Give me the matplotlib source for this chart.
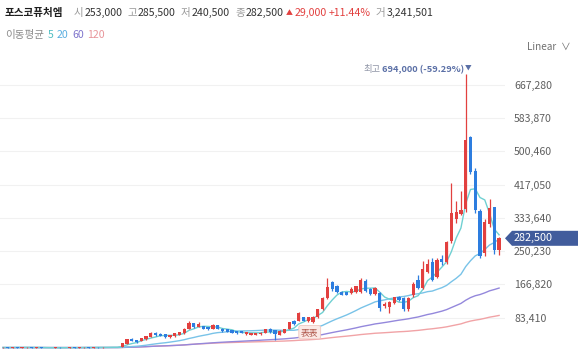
import numpy as np
import pandas as pd
import matplotlib
matplotlib.use("Agg")
import matplotlib.pyplot as plt
from matplotlib.patches import Polygon

plt.rcParams['font.family'] = ['Noto Sans CJK KR', 'DejaVu Sans']

# monthly candles, values in thousand KRW
opens = [8.6, 9.0, 8.5, 9.2, 8.3, 8.8, 9.1, 8.1, 8.6, 7.9, 7.4, 8.0, 8.5, 7.5, 8.1, 8.6, 8.0, 8.6, 9.0, 8.5,
         9.1, 8.6, 9.2, 9.0, 9.6, 10.0, 17.5, 31.0, 27.0, 25.0, 29.0, 35.0, 45.0, 43.0, 42.0, 34.0, 37.0, 41.0, 44.0, 56.0,
         69.0, 61.0, 62.0, 60.0, 56.0, 64.0, 56.0, 54.0, 52.0, 50.0, 49.0, 42.0, 41.0, 41.0, 42.0, 46.0, 54.0, 52.0, 41.0, 46.0,
         56.0, 76.0, 76.0, 84.0, 74.0, 72.0, 84.0, 104.0, 132.0, 172.0, 162.0, 147.0, 147.0, 145.0, 148.0, 148.0, 176.0, 156.0, 142.0, 145.0,
         112.0, 111.0, 120.0, 134.0, 132.0, 104.0, 140.0, 178.0, 158.0, 198.0, 224.0, 186.0, 230.0, 222.0, 276.0, 330.0, 344.0, 356.0, 536.0, 452.0,
         352.0, 245.0, 318.0, 360.0, 253.0]
highs = [9.4, 9.3, 9.6, 9.4, 9.0, 9.5, 9.3, 8.9, 8.8, 8.2, 8.3, 8.9, 8.7, 8.4, 8.9, 8.8, 8.9, 9.4, 9.2, 9.5,
         9.3, 9.5, 9.6, 10.0, 9.9, 19.8, 30.5, 32.5, 28.0, 33.0, 38.0, 46.5, 46.5, 44.5, 43.0, 41.0, 45.0, 48.0, 57.0, 76.0,
         70.0, 73.0, 63.0, 61.0, 67.0, 65.0, 57.0, 55.0, 53.0, 51.0, 50.0, 48.0, 46.0, 46.0, 47.0, 55.0, 58.0, 53.0, 52.0, 55.0,
         73.0, 78.0, 98.0, 86.0, 85.0, 87.0, 105.0, 134.0, 182.0, 176.0, 165.0, 150.0, 149.0, 160.0, 163.0, 182.0, 180.0, 158.0, 160.0, 147.0,
         122.0, 125.0, 136.0, 138.0, 134.0, 134.0, 172.0, 190.0, 225.0, 230.0, 232.0, 232.0, 240.0, 276.0, 420.0, 375.0, 400.0, 694.0, 540.0, 460.0,
         356.0, 332.0, 380.0, 362.0, 285.5]
lows = [8.0, 8.2, 8.3, 8.0, 7.9, 8.5, 7.8, 7.8, 7.6, 7.0, 7.2, 7.8, 7.2, 7.3, 7.9, 7.7, 7.8, 8.4, 8.2, 8.3,
        8.3, 8.5, 8.8, 8.8, 8.8, 9.6, 16.8, 24.0, 21.0, 24.0, 28.0, 34.5, 38.0, 37.0, 33.0, 33.0, 36.0, 40.0, 43.0, 55.0,
        58.0, 60.0, 55.0, 53.0, 55.0, 55.0, 48.0, 47.0, 45.0, 43.0, 44.0, 41.0, 40.0, 40.0, 41.0, 45.0, 46.0, 28.0, 40.0, 45.0,
        55.0, 66.0, 75.0, 75.0, 72.0, 70.0, 83.0, 103.0, 130.0, 150.0, 146.0, 139.0, 139.0, 143.0, 146.0, 146.0, 148.0, 140.0, 140.0, 100.0,
        108.0, 96.0, 118.0, 126.0, 100.0, 100.0, 136.0, 156.0, 156.0, 195.0, 175.0, 184.0, 215.0, 218.0, 270.0, 322.0, 340.0, 348.0, 444.0, 345.0,
        232.0, 238.0, 310.0, 242.0, 240.5]
closes = [9.0, 8.5, 9.2, 8.3, 8.8, 9.1, 8.1, 8.6, 7.9, 7.4, 8.0, 8.5, 7.5, 8.1, 8.6, 8.0, 8.6, 9.0, 8.5, 9.1,
          8.6, 9.2, 9.0, 9.6, 9.2, 19.0, 29.0, 25.0, 22.0, 32.0, 37.0, 45.0, 39.0, 38.0, 34.0, 40.0, 44.0, 47.0, 56.0, 71.0,
          59.0, 67.0, 56.0, 54.0, 66.0, 56.0, 49.0, 48.0, 46.0, 44.0, 45.0, 47.0, 45.0, 45.0, 46.0, 54.0, 47.0, 42.0, 51.0, 54.0,
          72.0, 67.0, 94.0, 76.0, 84.0, 86.0, 104.0, 132.0, 161.0, 155.0, 148.0, 141.0, 141.0, 155.0, 162.0, 178.0, 150.0, 142.0, 158.0, 108.0,
          118.0, 123.0, 134.0, 128.0, 106.0, 132.0, 168.0, 158.0, 205.0, 218.0, 178.0, 228.0, 222.0, 272.0, 345.0, 348.0, 354.0, 528.0, 450.0, 354.0,
          238.0, 324.0, 358.0, 253.5, 282.5]
# closes before the visible window (feed the long moving averages)
prior_closes = [8.4, 8.1, 7.9, 8.3, 8.6, 8.2, 7.8, 8.0, 8.5, 8.7, 8.3, 8.0, 7.7, 7.9, 8.2, 8.6, 8.9, 8.4, 8.1, 8.6]
volume = 3241501
ma_periods = [5, 20, 60, 120]
ma_colors = ['#6fd0d2', '#79c3e8', '#9488dc', '#f1a3a6']
yticks = [83.41, 166.82, 250.23, 333.64, 417.05, 500.46, 583.87, 667.28]

UP = '#e2403f'
DOWN = '#2d7ddf'

o = np.array(opens); h = np.array(highs); l = np.array(lows); c = np.array(closes)
n = len(c)
x = np.arange(n)

fig = plt.figure(figsize=(5.8, 3.52), dpi=100)
ax = fig.add_axes([0, 0, 505 / 580, 297 / 352])
ax.set_xlim(-0.63, n + 0.24)
ax.set_ylim(-2.76, 742.4)
for s in ax.spines.values():
    s.set_visible(False)
ax.set_xticks([])
ax.yaxis.tick_right()
ax.set_yticks(yticks)
ax.set_yticklabels([f"{int(round(v * 1000)):,}" for v in yticks])
ax.tick_params(axis='y', length=0, pad=6.5, labelsize=7.6, labelcolor='#5f5f5f')
ax.grid(axis='y', color='#f1f1f1', lw=0.8)
ax.set_axisbelow(True)

# moving averages
full = pd.Series(prior_closes + closes)
for p, col in zip(ma_periods[::-1], ma_colors[::-1]):
    ma = full.rolling(p, min_periods=1).mean().to_numpy()[-n:]
    ax.plot(x, ma, color=col, lw=1.0, zorder=2)

# candles
up = c >= o
colors = np.where(up, UP, DOWN)
ax.vlines(x, l, h, colors=colors, lw=0.9, zorder=3)
body = np.maximum(np.abs(c - o), 0.8)
ax.bar(x, body, bottom=np.minimum(o, c), width=0.68, color=colors, lw=0, zorder=4)

# high annotation
imax = int(np.argmax(h))
pct = (c[-1] - h[imax]) / h[imax] * 100
t_arrow = ax.annotate("▼", xy=(imax, h[imax]), xytext=(1.5, 1), textcoords='offset points',
                      ha='center', va='bottom', fontsize=4.8, color='#5a6fa6', zorder=6)
fig.canvas.draw()
bb = t_arrow.get_window_extent()
t_hi = fig.text(bb.x0 - 0.5, bb.y0 - 1, f"{int(h[imax] * 1000):,} ({pct:.2f}%)", ha='right', va='bottom',
                fontsize=6.7, color='#5a6fa6', fontweight='semibold', transform=None)
fig.canvas.draw()
bb = t_hi.get_window_extent()
fig.text(bb.x0 - 1.5, bb.y0, "최고", ha='right', va='bottom', fontsize=6.7, color='#8d93a5',
         transform=None)

# event badge
ax.text(64.3, 47, "表表", ha='center', va='center', fontsize=6.3, color='#b0584c', zorder=7,
        bbox=dict(boxstyle='round,pad=0.25', fc='#fbe9e6', ec='#f0c8c0', lw=0.6))

# last price tag
yd = ax.transData.transform((0, c[-1]))[1]
tag = Polygon([(505, yd), (512, yd + 7.5), (578, yd + 7.5), (578, yd - 7.5), (512, yd - 7.5)],
              closed=True, transform=None, fc='#415c9c', ec='none', zorder=10)
fig.patches.append(tag)
fig.text(514, yd, f"{int(c[-1] * 1000):,}", transform=None, ha='left', va='center',
         fontsize=7.8, color='white', zorder=11)

# header
def px(xp, yp):
    return xp / 580, 1 - yp / 352

fs = 7.6
fig.text(*px(5, 13), "포스코퓨처엠", fontsize=fs, fontweight='bold', color='#1e1e1e', va='center')
chg = (c[-1] - c[-2]) * 1000
pct_chg = (c[-1] - c[-2]) / c[-2] * 100
items = [(74, "시", '#9a9a9a'), (85, f"{int(o[-1] * 1000):,}", '#333333'),
         (127, "고", '#9a9a9a'), (138, f"{int(h[-1] * 1000):,}", '#333333'),
         (181, "저", '#9a9a9a'), (192, f"{int(l[-1] * 1000):,}", '#333333'),
         (235, "종", '#9a9a9a'), (246, f"{int(c[-1] * 1000):,}", '#333333'),
         (286, "▲", UP), (295, f"{int(chg):,}", UP), (329, f"+{pct_chg:.2f}%", UP),
         (376, "거", '#9a9a9a'), (387, f"{volume:,}", '#333333')]
for xp, s, col in items:
    fig.text(*px(xp, 13), s, fontsize=fs if s != "▲" else 5, color=col, va='center')

fig.text(*px(5, 35), "이동평균", fontsize=fs, color='#8a8a8a', va='center')
for xp, p, col in zip([48, 57, 72, 87], ma_periods, ['#52bfc3', '#5aaee0', '#7f74cc', '#e8959a']):
    fig.text(*px(xp, 35), str(p), fontsize=fs, color=col, va='center')

fig.text(*px(527, 47), "Linear", fontsize=7.2, color='#707070', va='center')
fig.text(*px(561, 47), "∨", fontsize=7, color='#707070', va='center')

fig.savefig("out.png", dpi=100)
